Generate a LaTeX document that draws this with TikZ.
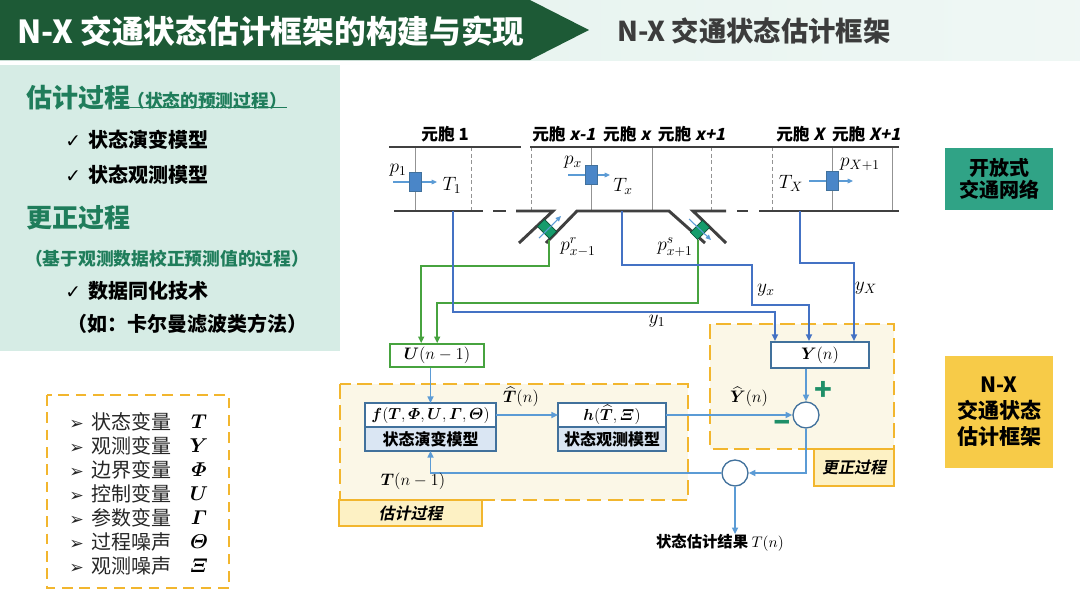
\RequirePackage{fix-cm}
\documentclass[tikz,border=0pt]{standalone}
\usepackage{fontspec}
\usepackage{amsmath,bm}
\usepackage{tikz}
\usetikzlibrary{arrows.meta,positioning}

\newfontfamily\cjk{Noto Sans CJK SC}
\newfontfamily\cjksl{Noto Sans CJK SC Bold}[FakeSlant=0.2]
\newfontfamily\dingfont{DejaVu Sans}
\newcommand{\setfs}[2]{\fontsize{#1}{#2}\selectfont}

\definecolor{hdrgreen}{HTML}{1D5A36}
\definecolor{hdrgray}{HTML}{3C3C3C}
\definecolor{mint}{HTML}{D6ECE5}
\definecolor{mintlight}{HTML}{E2F1EC}
\definecolor{txtgreen}{HTML}{1F7D5B}
\definecolor{netteal}{HTML}{30A386}
\definecolor{frameyellow}{HTML}{F7CB48}
\definecolor{dashorange}{HTML}{F2B62E}
\definecolor{areabg}{HTML}{FBF7E7}
\definecolor{tagbg}{HTML}{FDF1C4}
\definecolor{roadgray}{HTML}{404040}
\definecolor{linkblue}{HTML}{4472C4}
\definecolor{flowblue}{HTML}{5B9BD5}
\definecolor{boxblue}{HTML}{41719C}
\definecolor{boxfill}{HTML}{DAE6F3}
\definecolor{linkgreen}{HTML}{47A33F}
\definecolor{detblue}{HTML}{4A86C8}
\definecolor{detgreen}{HTML}{169C6C}
\definecolor{signgreen}{HTML}{1E8F68}

\tikzset{
  road/.style={draw=roadgray, line width=2.2pt},
  cellline/.style={draw=gray!85, line width=0.6pt},
  celldash/.style={cellline, dash pattern=on 3pt off 2pt},
  flow/.style={draw=flowblue, line width=1.2pt, -{Triangle[length=5pt,width=4.5pt]}},
  thinflow/.style={draw=flowblue, line width=0.8pt, -{Triangle[length=4pt,width=3.5pt]}},
  link/.style={draw=linkblue, line width=1.5pt, -{Triangle[length=5pt,width=4.5pt]}},
  glink/.style={draw=linkgreen, line width=1.5pt, -{Triangle[length=5pt,width=4.5pt]}},
  detector/.style={draw=boxblue, fill=detblue, line width=0.5pt, minimum width=9pt, minimum height=14pt, inner sep=0pt},
  rampdet/.style={draw=detgreen!50!black, fill=detgreen, line width=0.5pt, minimum width=7.5pt, minimum height=12.75pt, inner sep=0pt},
  blocktop/.style={draw=boxblue, line width=1.5pt, fill=white, minimum height=18pt, inner sep=0pt, outer sep=0pt, font=\setfs{12pt}{14pt}},
  blockbot/.style={blocktop, fill=boxfill, font=\cjk\bfseries\setfs{12pt}{14pt}},
  sumnode/.style={circle, draw=boxblue, line width=1pt, fill=white, minimum size=19.5pt, inner sep=0pt},
  area/.style={draw=dashorange, line width=1.8pt, dash pattern=on 11pt off 5pt, fill=areabg},
  tagbox/.style={draw=dashorange, line width=1.8pt, fill=tagbg, inner sep=0pt, font=\cjksl\setfs{12pt}{14pt}},
  celltxt/.style={inner sep=0pt, font=\cjk\bfseries\setfs{12.5pt}{15pt}},
  mathlbl/.style={inner sep=0pt, font=\setfs{14.5pt}{17pt}},
  bigtitle/.style={anchor=west, inner sep=0pt, text=txtgreen, font=\cjk\bfseries\setfs{19.5pt}{22pt}},
  subtitle/.style={anchor=west, inner sep=0pt, text=txtgreen, font=\cjk\bfseries\setfs{13.3pt}{16pt}},
  checkitem/.style={anchor=west, inner sep=0pt, font=\cjk\bfseries\setfs{15pt}{18pt}},
  legitem/.style={anchor=west, inner sep=0pt, text=black!85, font=\cjk\setfs{15pt}{18pt}},
  legsym/.style={inner sep=0pt, font=\setfs{15pt}{18pt}},
  sidebox/.style={inner sep=0pt, minimum width=81pt, text=black, align=center}
}

\begin{document}
\begin{tikzpicture}[x=0.75pt,y=0.75pt,yscale=-1,xscale=1]
    \useasboundingbox (0,0) rectangle (1080,608);
    \fill[white] (0,0) rectangle (1080,608);

    % header
    \shade[left color=mintlight, right color=mintlight!55] (0,0) rectangle (1080,60);
    \fill[hdrgreen] (0,0) -- (530,0) -- (589,30) -- (530,60) -- (0,60) -- cycle;
    \node[anchor=west, inner sep=0pt, text=white, font=\cjk\bfseries\setfs{23.8pt}{27pt}] (title) at (17,31) {N-X 交通状态估计框架的构建与实现};
    \node[anchor=west, inner sep=0pt, text=hdrgray, font=\cjk\bfseries\setfs{20.5pt}{24pt}] (subhead) at (617,31) {N-X 交通状态估计框架};

    % left panel
    \fill[mint] (0,65) rectangle (340,351);
    \node[bigtitle] (est) at (26,98) {估计过程};
    \node[subtitle] (estnote) at (127,101) {（状态的预测过程）};
    \draw[txtgreen, line width=0.8pt] ([yshift=-2pt]estnote.south west) -- ([yshift=-2pt]estnote.south east);
    \node[checkitem] (chk1) at (65,140) {{\dingfont\setfs{14pt}{16pt}✓}\hspace{6pt}状态演变模型};
    \node[checkitem] (chk2) at (65,175) {{\dingfont\setfs{14pt}{16pt}✓}\hspace{6pt}状态观测模型};
    \node[bigtitle] (cor) at (26,218) {更正过程};
    \node[subtitle] (cornote) at (25,259) {（基于观测数据校正预测值的过程）};
    \node[checkitem] (chk3) at (65,291) {{\dingfont\setfs{14pt}{16pt}✓}\hspace{6pt}数据同化技术};
    \node[checkitem, font=\cjk\bfseries\setfs{15pt}{18pt}] (kalman) at (67,324) {（如：卡尔曼滤波类方法）};

    % legend
    \draw[dashorange, line width=1.8pt, dash pattern=on 8pt off 5pt] (47,395) rectangle (229,588);
    \node[legitem] (leg1) at (69,422) {{\dingfont\setfs{13pt}{15pt}➢}\hspace{6pt}状态变量};
    \node[legitem] (leg2) at (69,446) {{\dingfont\setfs{13pt}{15pt}➢}\hspace{6pt}观测变量};
    \node[legitem] (leg3) at (69,470) {{\dingfont\setfs{13pt}{15pt}➢}\hspace{6pt}边界变量};
    \node[legitem] (leg4) at (69,494) {{\dingfont\setfs{13pt}{15pt}➢}\hspace{6pt}控制变量};
    \node[legitem] (leg5) at (69,518) {{\dingfont\setfs{13pt}{15pt}➢}\hspace{6pt}参数变量};
    \node[legitem] (leg6) at (69,542) {{\dingfont\setfs{13pt}{15pt}➢}\hspace{6pt}过程噪声};
    \node[legitem] (leg7) at (69,566) {{\dingfont\setfs{13pt}{15pt}➢}\hspace{6pt}观测噪声};
    \node[legsym] (sym1) at (199,422) {$\bm{T}$};
    \node[legsym] (sym2) at (199,446) {$\bm{Y}$};
    \node[legsym] (sym3) at (199,470) {$\bm{\varPhi}$};
    \node[legsym] (sym4) at (199,494) {$\bm{U}$};
    \node[legsym] (sym5) at (199,518) {$\bm{\varGamma}$};
    \node[legsym] (sym6) at (199,542) {$\bm{\varTheta}$};
    \node[legsym] (sym7) at (199,566) {$\bm{\varXi}$};

    % right side tags
    \node[sidebox, fill=netteal, minimum height=46.5pt, font=\cjk\bfseries\setfs{15pt}{16.5pt}] (net) at (999,179) {开放式\\交通网络};
    \node[sidebox, fill=frameyellow, minimum height=84pt, font=\cjk\bfseries\setfs{15.75pt}{19.5pt}] (frame) at (999,412) {N-X\\交通状态\\估计框架};

    % cell labels
    \node[celltxt] (cell1) at (445,134) {元胞 1};
    \node[celltxt, anchor=west] (cellx) at (532,134) {元胞 {\cjksl x-1}\ \ 元胞 {\cjksl x}\ \ 元胞 {\cjksl x+1}};
    \node[celltxt, anchor=west] (cellX) at (776,134) {元胞 {\cjksl X}\ \ 元胞 {\cjksl X+1}};

    % road
    \foreach \cx in {415,591,652,832,892} \draw[cellline] (\cx,147) -- (\cx,211);
    \foreach \cx in {471,531,711,772} \draw[celldash] (\cx,147) -- (\cx,211);
    \draw[road] (389,147) -- (521,147);
    \draw[road] (530,147) -- (899,147);
    \draw[road] (394,211) -- (483,211);
    \draw[road] (493,211) -- (506,211);
    \draw[road] (516,211) -- (553,211) -- (519,243);
    \draw[road] (546,243) -- (577,211) -- (669,211) -- (705,243);
    \draw[road] (726,243) -- (693,211) -- (726,211);
    \draw[road] (737,211) -- (748,211);
    \draw[road] (759,211) -- (899,211);

    % detectors
    \draw[thinflow] (393,182) -- (437,182);
    \node[detector] (det1) at (415,182) {};
    \draw[thinflow] (568,175) -- (610,175);
    \node[detector] (detx) at (591,175) {};
    \draw[thinflow] (809,181) -- (853,181);
    \node[detector] (detX) at (832,181) {};
    \node[rampdet, rotate=45] (detr) at (547,229) {};
    \node[rampdet, rotate=-45] (dets) at (700,230) {};
    \draw[thinflow] (539,238) -- (561,216);
    \draw[thinflow] (689,219) -- (711,240);

    \node[mathlbl] (lp1) at (398,170) {$p_1$};
    \node[mathlbl] (lT1) at (452,185) {$T_1$};
    \node[mathlbl] (lpx) at (573,162) {$p_x$};
    \node[mathlbl] (lTx) at (623,186) {$T_x$};
    \node[mathlbl] (lTX) at (791,183) {$T_X$};
    \node[mathlbl] (lpX) at (860,164) {$p_{X+1}$};
    \node[mathlbl] (lpr) at (578,247) {$p^{r}_{x-1}$};
    \node[mathlbl] (lps) at (675,247) {$p^{s}_{x+1}$};

    % areas
    \draw[area] (340,384) rectangle (688,500);
    \draw[area] (710,324) rectangle (894,449);
    \node[tagbox, minimum width=107pt, minimum height=19.5pt] (esttag) at (410.5,513) {估计过程};
    \node[tagbox, minimum width=60pt, minimum height=27.75pt] (cortag) at (854,467.5) {更正过程};

    % boxes
    \node[draw=linkgreen, line width=1.2pt, fill=white, minimum width=70.5pt, minimum height=17.25pt, inner sep=0pt, font=\setfs{12.5pt}{14pt}] (ub) at (437,355.5) {$\bm{U}(n-1)$};
    \node[draw=boxblue, line width=1.5pt, fill=white, minimum width=73.5pt, minimum height=19.5pt, inner sep=0pt, font=\setfs{12.5pt}{14pt}] (yb) at (820,355) {$\bm{Y}(n)$};
    \node[blocktop, minimum width=98.25pt] (ftop) at (430.5,415) {$\bm{f}(\bm{T},\bm{\varPhi},\bm{U},\bm{\varGamma},\bm{\varTheta})$};
    \node[blockbot, minimum width=98.25pt, below=0pt of ftop] (fbot) {状态演变模型};
    \node[blocktop, minimum width=81pt] (htop) at (612,415) {$\bm{h}(\widehat{\bm{T}},\bm{\varXi})$};
    \node[blockbot, minimum width=81pt, below=0pt of htop] (hbot) {状态观测模型};
    \node[sumnode] (s1) at (806,415) {};
    \node[sumnode] (s2) at (735,473) {};
    \node[inner sep=0pt, font=\cjk\bfseries\setfs{11.5pt}{14pt}] (res) at (720,543) {状态估计结果 $T(n)$};

    % road links
    \coordinate (d1) at (453,211);
    \coordinate (dx) at (622,211);
    \coordinate (dX) at (800,211);
    \coordinate (dr) at (549,240);
    \coordinate (ds) at (698,240);
    \draw[glink] (dr) -- ++(0,26) -| ([xshift=24pt]ub.north west);
    \draw[glink] (ds) -- ++(0,63) -| ([xshift=36pt]ub.north west);
    \draw[link] (d1) -- ++(0,101) -| ([xshift=3.75pt]yb.north west);
    \draw[link] (dx) -- ++(0,54) -| ++(130,40) -| ([xshift=29.25pt]yb.north west);
    \draw[link] (dX) -- ++(0,52) -| ([xshift=63pt]yb.north west);
    \node[mathlbl] (ly1) at (657,321) {$y_1$};
    \node[mathlbl] (lyx) at (766,290) {$y_x$};
    \node[mathlbl] (lyX) at (866,288) {$y_X$};

    % flows
    \draw[flow] (ub.south -| ftop.north) -- (ftop.north);
    \draw[flow] (ftop.east) -- (htop.west);
    \draw[flow] (htop.east) -- (s1.west);
    \draw[flow] (yb.south -| s1.north) -- (s1.north);
    \draw[flow] (s1.south) |- (s2.east);
    \draw[flow] (s2.west) -| (fbot.south);
    \draw[flow] (s2.south) -- (s2.south |- res.north);

    \node[mathlbl, font=\setfs{12.5pt}{14pt}] (lThat) at (521,397) {$\widehat{\bm{T}}(n)$};
    \node[mathlbl, font=\setfs{12.5pt}{14pt}] (lYhat) at (749,397) {$\widehat{\bm{Y}}(n)$};
    \node[mathlbl, font=\setfs{12.5pt}{14pt}] (lTold) at (413,481) {$\bm{T}(n-1)$};
    \node[inner sep=0pt, text=signgreen, font=\cjk\bfseries\setfs{22pt}{24pt}] (plus) at (823,391) {+};
    \node[inner sep=0pt, text=signgreen, font=\cjk\bfseries\setfs{24pt}{26pt}] (minus) at (782,426) {–};

\end{tikzpicture}
\end{document}
